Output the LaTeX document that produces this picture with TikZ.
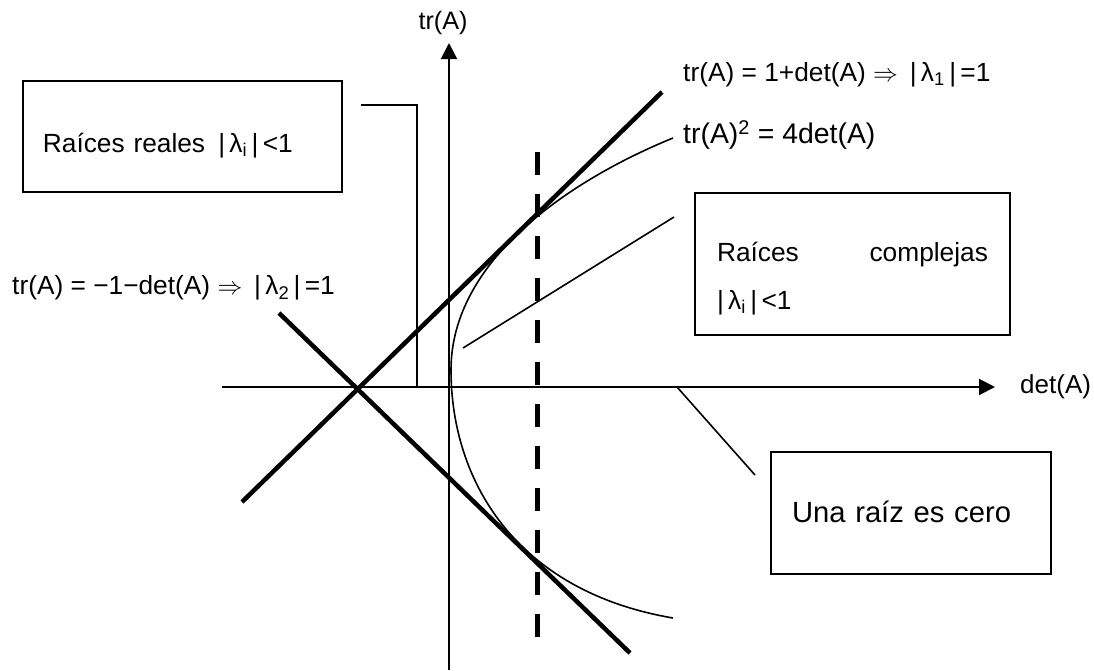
\documentclass[tikz,border=0pt]{standalone}
\usepackage{amsmath}
\usepackage{fontspec}
\setmainfont{Liberation Sans}
\usetikzlibrary{arrows.meta, calc}

\tikzset{
  regionbox/.style={draw, line width=2pt, inner xsep=20pt, align=left},
  heavyline/.style={line width=4.5pt},
  leadline/.style={line width=1.6pt},
  axisline/.style={line width=2pt, -{Triangle[length=16pt, width=16pt]}},
  lbl/.style={inner sep=0pt, anchor=west, font=\fontsize{26.3}{30}\selectfont},
}

\begin{document}
\begin{tikzpicture}[x=1pt, y=-1pt]
  \useasboundingbox (0,0) rectangle (1094,670);

  % axes
  \coordinate (ybot) at (449,670);
  \coordinate (ytop) at (449,43);
  \coordinate (xleft) at (222,387);
  \coordinate (xright) at (995,387);
  \draw[axisline] (xleft) -- (xright);
  \draw[axisline] (ybot) -- (ytop);
  \node[inner sep=0pt, font=\fontsize{25.2}{28}\selectfont] (trax) at (443,23) {tr(A)};
  \node[lbl, font=\fontsize{26}{28}\selectfont] (detax) at (1020,387) {det(A)};

  % stability lines
  \coordinate (pa) at (242,502);
  \coordinate (pb) at (662,92);
  \coordinate (ma) at (279,313);
  \coordinate (mb) at (630,653);
  \draw[heavyline] (pa) -- (pb);
  \draw[heavyline] (ma) -- (mb);

  % det(A)=1
  \coordinate (da) at (537,152);
  \coordinate (db) at (537,637);
  \draw[line width=5pt, dash pattern=on 23pt off 19pt] (da) -- (db);

  % parabola
  \coordinate (ptop) at (673,138);
  \coordinate (pvert) at (451,370);
  \coordinate (pbot) at (673,618);
  \draw[leadline] (ptop) .. controls (570,180) and (451,260) .. (pvert)
    .. controls (451,480) and (515,591) .. (pbot);

  % labels
  \node[lbl] (pluslab) at (683,75) {tr(A) = 1+det(A) $\Rightarrow$ \,|\,λ\textsubscript{1}\,|\,=1};
  \node[lbl, font=\fontsize{28.4}{30}\selectfont] (parlab) at (683,135) {tr(A)\textsuperscript{2} = 4det(A)};
  \node[lbl] (minuslab) at (12,288) {tr(A) = −1−det(A) $\Rightarrow$ \,|\,λ\textsubscript{2}\,|\,=1};

  % boxes
  \node[regionbox, text width=279pt, minimum height=111pt, text height=37pt, text depth=6pt,
    font=\fontsize{26.3}{32}\selectfont]
    (rbox) at (182.4,136.5) {Raíces reales \,|\,λ\textsubscript{i}\,|\,<1};
  \node[regionbox, text width=271pt, minimum height=142pt, inner xsep=22pt, text height=48pt,
    text depth=54pt, font=\fontsize{26.3}{48}\selectfont]
    (cbox) at (852.5,264) {Raíces\hfill complejas\\|\,λ\textsubscript{i}\,|\,<1};
  \node[regionbox, text width=238pt, minimum height=122pt, inner xsep=21pt, text height=28pt,
    text depth=10pt, font=\fontsize{29.2}{32}\selectfont]
    (zbox) at (911,513) {Una raíz es cero};

  % leaders
  \coordinate (rtip) at (361,105);
  \coordinate (rfoot) at (417,387);
  \draw[line width=2pt] (rtip) -| (rfoot);
  \coordinate (ctip) at (674,217);
  \coordinate (cend) at (463,348);
  \draw[leadline] (ctip) -- (cend);
  \coordinate (zfoot) at (677,387);
  \coordinate (ztip) at (755,475);
  \draw[leadline] (zfoot) -- (ztip);
\end{tikzpicture}
\end{document}
